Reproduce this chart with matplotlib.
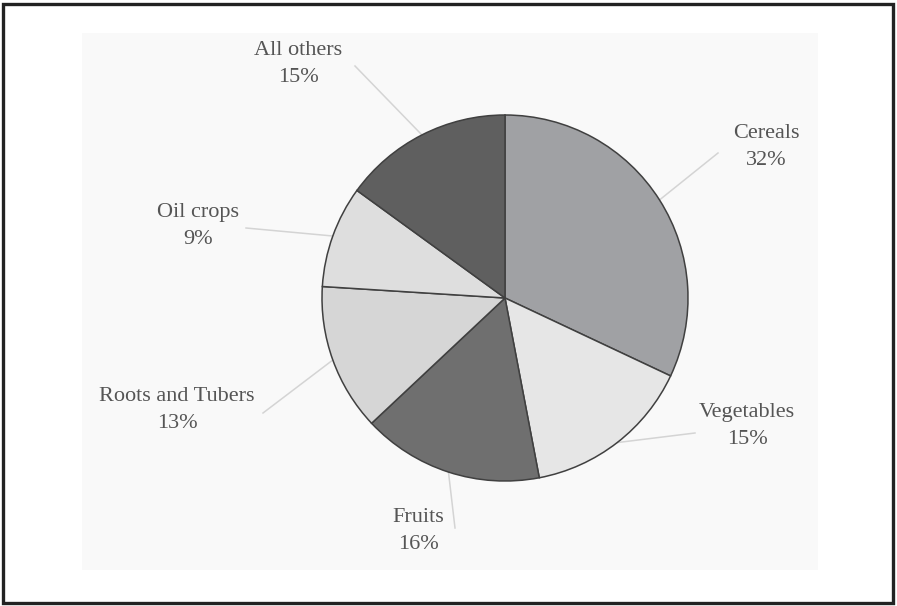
import matplotlib.pyplot as plt
import numpy as np
from matplotlib.patches import Rectangle

categories = ['Cereals', 'Vegetables', 'Fruits', 'Roots and Tubers', 'Oil crops', 'All others']
shares = [32, 15, 16, 13, 9, 15]
colors = ['#a0a1a4', '#e6e6e6', '#6f6f6f', '#d6d6d6', '#dedede', '#5f5f5f']

# label centres and leader line ends, in pixels from the top left
label_xy = [(766, 147), (747, 426), (418, 531), (177, 410), (198, 226), (298, 64)]
line_end = [(718, 153), (695, 433), (455, 528), (263, 413), (246, 228), (355, 66)]

W, H = 897, 606
fig = plt.figure(figsize=(W / 100, H / 100), dpi=100)
ax = fig.add_axes([0, 0, 1, 1])

cx, cy, r = 505, H - 298, 183
wedges, _ = ax.pie(shares, colors=colors, startangle=90, counterclock=False,
                   center=(cx, cy), radius=r, frame=True,
                   wedgeprops=dict(edgecolor='#404040', linewidth=1.1))
ax.set_xlim(0, W)
ax.set_ylim(0, H)
ax.set_aspect('equal')
ax.axis('off')

# frame and pale plot area
ax.add_patch(Rectangle((3, 3), W - 7, H - 7, fill=False, ec='#222222', lw=2.4, zorder=3))
ax.add_patch(Rectangle((82, H - 570), 736, 537, fc='#f9f9f9', ec='none', zorder=0))

for w, name, val, (lx, ly), (ex, ey) in zip(wedges, categories, shares, label_xy, line_end):
    mid = np.deg2rad((w.theta1 + w.theta2) / 2)
    sx, sy = cx + r * np.cos(mid), cy + r * np.sin(mid)
    ax.plot([sx, ex], [sy, H - ey], color='#d4d4d4', lw=1.1, zorder=0.8)
    ax.text(lx, H - ly, f'{name}\n{val}%', ha='center', va='center',
            fontsize=16, family='Liberation Serif', color='#555555',
            linespacing=1.6)

fig.savefig('out.png', dpi=100)
